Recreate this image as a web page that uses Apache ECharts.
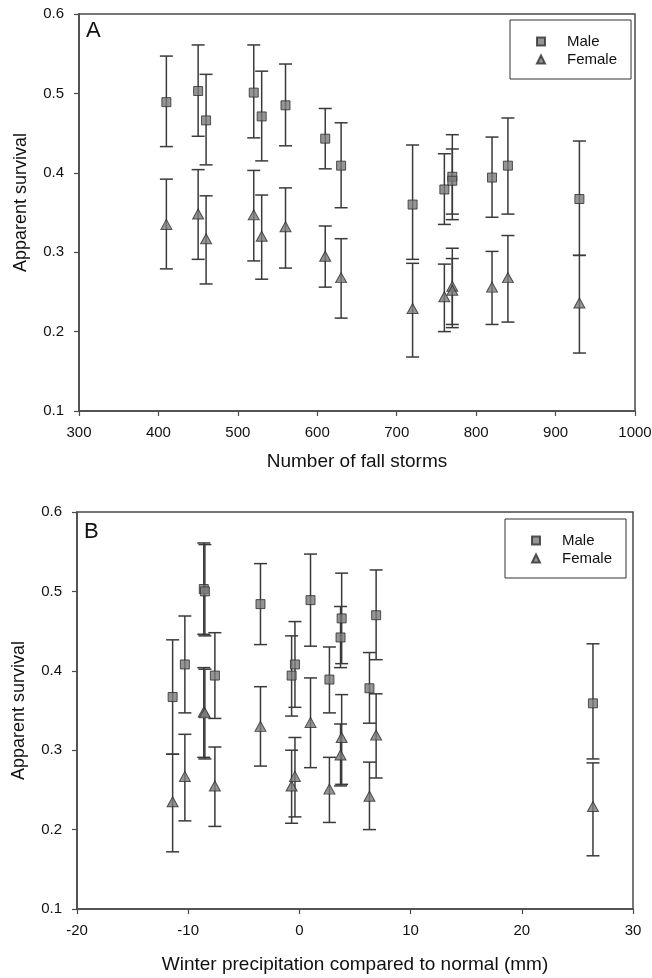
<!DOCTYPE html>
<html>
<head>
<meta charset="utf-8">
<script src="https://cdn.jsdelivr.net/npm/echarts@6/dist/echarts.min.js"></script>
<style>
  html, body { margin: 0; padding: 0; background: #fff; }
  #chart { width: 652px; height: 978px; }
</style>
</head>
<body>
<div id="chart"></div>
<script>
// ---- Panel A: Number of fall storms ----
const xA = [410, 450, 460, 520, 530, 560, 610, 630, 720, 760, 770, 770, 820, 840, 930];
const maleA = [0.489, 0.503, 0.466, 0.501, 0.471, 0.485, 0.443, 0.409, 0.360, 0.379, 0.395, 0.390, 0.394, 0.409, 0.367];
const maleLoA = [0.433, 0.446, 0.410, 0.444, 0.415, 0.434, 0.405, 0.356, 0.291, 0.335, 0.341, 0.348, 0.344, 0.348, 0.296];
const maleHiA = [0.547, 0.561, 0.524, 0.561, 0.528, 0.537, 0.481, 0.463, 0.435, 0.424, 0.448, 0.430, 0.445, 0.469, 0.440];
const femaleA = [0.335, 0.348, 0.317, 0.347, 0.320, 0.332, 0.295, 0.268, 0.229, 0.244, 0.257, 0.252, 0.256, 0.268, 0.236];
const femaleLoA = [0.279, 0.291, 0.260, 0.289, 0.266, 0.280, 0.256, 0.217, 0.168, 0.200, 0.205, 0.209, 0.209, 0.212, 0.173];
const femaleHiA = [0.392, 0.404, 0.371, 0.403, 0.372, 0.381, 0.333, 0.317, 0.286, 0.285, 0.305, 0.292, 0.301, 0.321, 0.296];

// ---- Panel B: Winter precipitation compared to normal (mm) ----
const xB = [-11.4, -10.3, -8.6, -8.5, -7.6, -3.5, -0.7, -0.4, 1.0, 2.7, 3.7, 3.8, 6.3, 6.9, 26.4];
const maleB = [0.367, 0.408, 0.503, 0.500, 0.394, 0.484, 0.394, 0.408, 0.489, 0.389, 0.442, 0.466, 0.378, 0.470, 0.359];
const maleLoB = [0.295, 0.347, 0.446, 0.444, 0.340, 0.433, 0.343, 0.354, 0.431, 0.347, 0.404, 0.409, 0.334, 0.414, 0.289];
const maleHiB = [0.439, 0.469, 0.561, 0.559, 0.448, 0.535, 0.444, 0.462, 0.547, 0.430, 0.481, 0.523, 0.423, 0.527, 0.434];
const femaleB = [0.235, 0.267, 0.348, 0.347, 0.255, 0.330, 0.255, 0.267, 0.335, 0.251, 0.294, 0.316, 0.242, 0.319, 0.229];
const femaleLoB = [0.172, 0.211, 0.291, 0.289, 0.204, 0.280, 0.208, 0.216, 0.278, 0.209, 0.255, 0.257, 0.200, 0.265, 0.167];
const femaleHiB = [0.295, 0.320, 0.404, 0.402, 0.304, 0.380, 0.300, 0.316, 0.391, 0.291, 0.333, 0.370, 0.285, 0.371, 0.284];

// ---- Axis tick settings ----
const yTicks = [0.1, 0.2, 0.3, 0.4, 0.5, 0.6];
const xTicksA = [300, 400, 500, 600, 700, 800, 900, 1000];
const xTicksB = [-20, -10, 0, 10, 20, 30];

const FONT = 'Liberation Sans, Arial, sans-serif';
const AXIS_COLOR = '#4a4a4a';
const BAR_COLOR = '#3a3a3a';
const MARK_FILL = '#7a7a7a';
const MARK_EDGE = '#2e2e2e';

function zip3(x, lo, hi) { return x.map((v, i) => [v, lo[i], hi[i]]); }
function zip2(x, y) { return x.map((v, i) => [v, y[i]]); }

function errorRender(params, api) {
  const x = api.value(0), lo = api.value(1), hi = api.value(2);
  const pLo = api.coord([x, lo]);
  const pHi = api.coord([x, hi]);
  const hw = 6.5;
  const style = { stroke: BAR_COLOR, lineWidth: 1.5, fill: null };
  return {
    type: 'group',
    children: [
      { type: 'line', shape: { x1: pLo[0], y1: pLo[1], x2: pHi[0], y2: pHi[1] }, style },
      { type: 'line', shape: { x1: pLo[0] - hw, y1: pLo[1], x2: pLo[0] + hw, y2: pLo[1] }, style },
      { type: 'line', shape: { x1: pHi[0] - hw, y1: pHi[1], x2: pHi[0] + hw, y2: pHi[1] }, style }
    ]
  };
}

function xAxisDef(gridIndex, ticks, name, nameGap) {
  return {
    type: 'value', gridIndex,
    min: ticks[0], max: ticks[ticks.length - 1], interval: ticks[1] - ticks[0],
    name, nameLocation: 'middle', nameGap,
    nameTextStyle: { fontFamily: FONT, fontSize: 19, color: '#111' },
    axisLine: { show: true, onZero: false, lineStyle: { color: AXIS_COLOR, width: 1.5 } },
    axisTick: { show: true, inside: false, length: 5, lineStyle: { color: AXIS_COLOR, width: 1.2 } },
    axisLabel: { fontFamily: FONT, fontSize: 15, color: '#111', margin: 14,
      formatter: v => String(v) },
    splitLine: { show: false }
  };
}
function yAxisDef(gridIndex, shiftPad) {
  return {
    type: 'value', gridIndex,
    min: yTicks[0], max: yTicks[yTicks.length - 1], interval: 0.1,
    name: 'Apparent survival', nameLocation: 'middle', nameGap: 49,
    nameTextStyle: { fontFamily: FONT, fontSize: 18, color: '#111', padding: [0, 0, 0, shiftPad] },
    axisLine: { show: true, onZero: false, lineStyle: { color: AXIS_COLOR, width: 1.5 } },
    axisTick: { show: true, inside: false, length: 5, lineStyle: { color: AXIS_COLOR, width: 1.2 } },
    axisLabel: { fontFamily: FONT, fontSize: 15, color: '#111', margin: 15,
      formatter: v => v.toFixed(1) },
    splitLine: { show: false }
  };
}

function legendDef(left, top) {
  return {
    data: ['Male', 'Female'],
    orient: 'vertical',
    left, top,
    padding: [14, 14, 12, 26],
    itemGap: 3,
    itemWidth: 8, itemHeight: 8,
    borderColor: '#333', borderWidth: 1,
    selectedMode: false,
    textStyle: { fontFamily: FONT, fontSize: 15, color: '#111', padding: [0, 0, 0, 17], lineHeight: 15 }
  };
}

const squareStyle = { color: MARK_FILL, borderColor: MARK_EDGE, borderWidth: 1 };
const triStyle = { color: MARK_FILL, borderColor: MARK_EDGE, borderWidth: 1 };

const gridCommon = { show: true, borderColor: AXIS_COLOR, borderWidth: 1.5, containLabel: false, outerBoundsMode: 'none' };

const option = {
  animation: false,
  backgroundColor: '#fff',
  title: [
    { text: 'A', left: 86, top: 20, padding: 0, textStyle: { fontFamily: FONT, fontSize: 22, fontWeight: 'normal', color: '#111' } },
    { text: 'B', left: 84, top: 521, padding: 0, textStyle: { fontFamily: FONT, fontSize: 22, fontWeight: 'normal', color: '#111' } }
  ],
  legend: [legendDef(510, 20), legendDef(505, 519)],
  grid: [
    Object.assign({ left: 79, top: 14, width: 556, height: 397 }, gridCommon),
    Object.assign({ left: 77, top: 512, width: 556, height: 397 }, gridCommon)
  ],
  xAxis: [
    xAxisDef(0, xTicksA, 'Number of fall storms', 41),
    xAxisDef(1, xTicksB, 'Winter precipitation compared to normal (mm)', 46)
  ],
  yAxis: [yAxisDef(0, 20), yAxisDef(1, 0)],
  series: [
    { type: 'custom', name: 'maleErrA', xAxisIndex: 0, yAxisIndex: 0, renderItem: errorRender,
      encode: { x: 0, y: [1, 2] }, data: zip3(xA, maleLoA, maleHiA), z: 1 },
    { type: 'custom', name: 'femaleErrA', xAxisIndex: 0, yAxisIndex: 0, renderItem: errorRender,
      encode: { x: 0, y: [1, 2] }, data: zip3(xA, femaleLoA, femaleHiA), z: 1 },
    { type: 'scatter', name: 'Male', xAxisIndex: 0, yAxisIndex: 0, symbol: 'rect', symbolSize: 9,
      itemStyle: squareStyle, data: zip2(xA, maleA), z: 3 },
    { type: 'scatter', name: 'Female', xAxisIndex: 0, yAxisIndex: 0, symbol: 'triangle', symbolSize: [11, 10],
      itemStyle: triStyle, data: zip2(xA, femaleA), z: 3 },

    { type: 'custom', name: 'maleErrB', xAxisIndex: 1, yAxisIndex: 1, renderItem: errorRender,
      encode: { x: 0, y: [1, 2] }, data: zip3(xB, maleLoB, maleHiB), z: 1 },
    { type: 'custom', name: 'femaleErrB', xAxisIndex: 1, yAxisIndex: 1, renderItem: errorRender,
      encode: { x: 0, y: [1, 2] }, data: zip3(xB, femaleLoB, femaleHiB), z: 1 },
    { type: 'scatter', name: 'Male', xAxisIndex: 1, yAxisIndex: 1, symbol: 'rect', symbolSize: 9,
      itemStyle: squareStyle, data: zip2(xB, maleB), z: 3 },
    { type: 'scatter', name: 'Female', xAxisIndex: 1, yAxisIndex: 1, symbol: 'triangle', symbolSize: [11, 10],
      itemStyle: triStyle, data: zip2(xB, femaleB), z: 3 }
  ]
};

const chart = echarts.init(document.getElementById('chart'), null, { renderer: 'canvas' });
chart.setOption(option);
</script>
</body>
</html>
